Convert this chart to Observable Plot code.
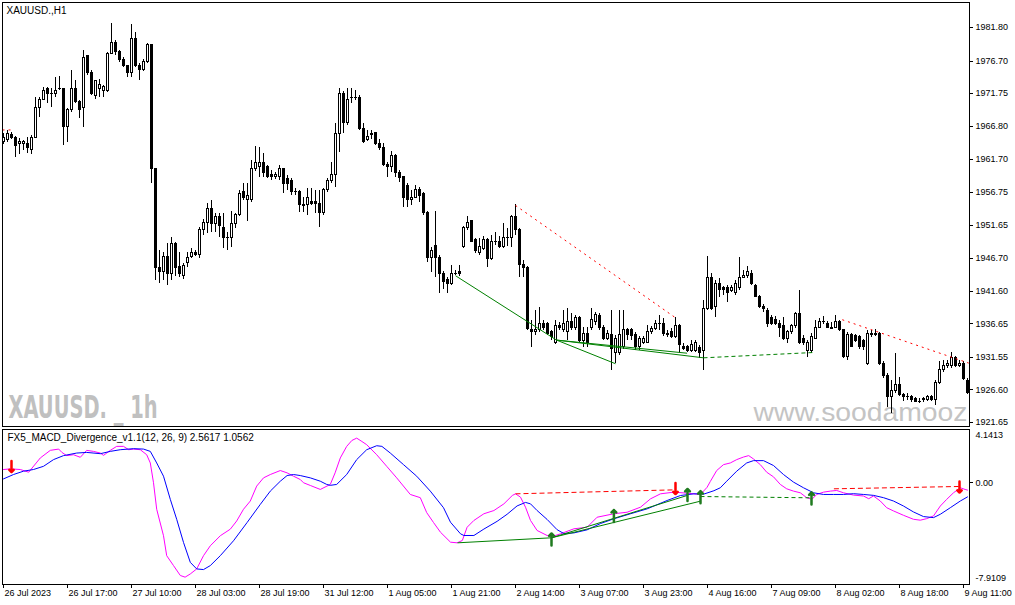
<!DOCTYPE html>
<html><head><meta charset="utf-8">
<script src="https://cdn.jsdelivr.net/npm/d3@7"></script>
<script src="https://cdn.jsdelivr.net/npm/@observablehq/plot@0.6"></script>
<style>
html,body{margin:0;padding:0;background:#fff;}
#chart{width:1015px;height:605px;overflow:hidden;}
#chart svg{display:block;}
</style></head><body><div id="chart"></div>
<script>
// ---- XAUUSD H1 candles (bar index 0..241) ----
const open = [
1964.4,1964.6,1965.5,1965.0,1964.0,1964.1,1964.1,1963.2,1965.0,1969.6,
1970.8,1972.4,1971.7,1971.7,1972.4,1972.5,1966.6,1969.2,1972.5,1970.4,
1969.5,1977.4,1974.9,1971.4,1972.5,1972.2,1972.2,1977.8,1979.4,1978.1,
1976.9,1975.9,1974.8,1980.1,1976.0,1975.4,1976.5,1979.2,1960.2,1945.2,
1944.6,1946.9,1944.3,1948.9,1945.4,1944.0,1945.9,1946.9,1947.5,1947.1,
1951.0,1952.1,1954.2,1951.9,1952.9,1951.3,1949.8,1949.7,1951.9,1953.2,
1956.7,1955.6,1955.5,1960.3,1960.6,1961.2,1960.5,1959.3,1959.0,1959.0,
1960.2,1958.8,1958.5,1956.8,1956.8,1954.8,1954.7,1955.2,1955.2,1955.0,
1953.5,1957.0,1958.5,1959.3,1965.6,1971.6,1967.3,1971.0,1971.0,1971.1,
1966.4,1964.6,1965.6,1965.8,1964.0,1963.5,1960.9,1960.5,1962.3,1959.7,
1959.1,1957.7,1955.6,1955.9,1957.0,1956.5,1953.6,1946.7,1948.6,1946.7,
1944.3,1943.3,1942.8,1944.3,1944.6,1948.3,1951.2,1952.3,1949.4,1947.4,
1948.1,1949.4,1946.5,1949.1,1949.2,1948.4,1949.8,1949.8,1952.9,1950.9,
1945.7,1945.2,1935.7,1935.4,1935.7,1936.7,1936.6,1935.4,1933.7,1936.4,
1935.7,1935.5,1936.9,1936.1,1937.5,1934.0,1935.2,1936.1,1936.9,1937.8,
1936.1,1934.4,1935.0,1932.3,1932.3,1933.1,1935.7,1935.7,1934.9,1933.1,
1933.8,1933.8,1935.4,1935.9,1936.7,1936.6,1935.2,1935.4,1934.6,1936.4,
1933.1,1933.1,1932.5,1932.6,1933.0,1932.5,1939.0,1943.6,1939.2,1942.8,
1942.1,1942.1,1941.7,1941.3,1942.2,1943.7,1944.0,1944.3,1942.5,1940.7,
1939.3,1938.7,1937.5,1937.3,1936.7,1936.3,1934.3,1935.4,1936.3,1938.1,
1934.3,1932.5,1932.5,1934.4,1936.1,1936.9,1936.7,1936.1,1936.1,1936.9,
1935.7,1931.6,1934.9,1934.8,1934.6,1934.0,1930.6,1934.9,1935.1,1935.1,
1930.6,1928.8,1925.5,1926.5,1927.3,1925.9,1925.6,1925.5,1925.2,1924.8,
1925.0,1925.0,1925.6,1925.0,1927.7,1929.6,1930.2,1930.2,1931.4,1930.3,
1930.6,1928.0];
const high = [
1965.6,1966.1,1965.8,1965.2,1964.9,1964.6,1965.0,1965.3,1971.1,1971.1,
1972.7,1972.7,1972.5,1974.2,1974.3,1972.5,1969.5,1975.3,1973.7,1970.7,
1978.3,1977.5,1975.3,1973.7,1973.9,1973.0,1978.0,1982.4,1979.8,1978.3,
1977.2,1976.0,1982.3,1981.0,1976.3,1976.9,1979.4,1979.2,1960.3,1947.8,
1947.5,1948.9,1949.8,1949.1,1947.5,1945.9,1947.5,1948.2,1947.8,1951.3,
1952.6,1955.0,1955.5,1953.5,1953.5,1953.5,1950.6,1953.8,1953.5,1957.0,
1958.0,1958.0,1961.5,1963.7,1963.5,1962.6,1960.8,1960.0,1959.7,1960.8,
1960.3,1959.3,1958.8,1957.3,1957.0,1955.9,1957.3,1957.3,1957.0,1957.0,
1957.3,1958.8,1961.2,1967.2,1972.5,1972.1,1972.5,1972.5,1972.2,1971.4,
1967.2,1966.1,1966.1,1965.8,1964.7,1964.1,1961.2,1962.9,1962.5,1960.0,
1959.1,1958.0,1957.0,1957.7,1957.4,1956.7,1953.8,1948.3,1953.8,1947.1,
1944.6,1943.7,1945.5,1944.8,1945.5,1951.5,1953.0,1952.4,1949.7,1949.7,
1950.0,1949.7,1950.1,1950.6,1950.0,1951.9,1951.2,1953.2,1954.8,1951.2,
1946.3,1945.4,1937.2,1938.7,1939.2,1937.2,1936.9,1935.7,1937.2,1936.9,
1938.7,1939.0,1938.3,1938.0,1937.8,1936.1,1936.1,1939.0,1938.4,1938.3,
1936.4,1935.7,1938.7,1934.9,1938.7,1938.7,1936.0,1936.0,1935.4,1934.8,
1934.8,1936.4,1936.3,1937.2,1937.9,1937.5,1935.7,1936.0,1937.6,1936.6,
1933.7,1933.4,1934.1,1934.1,1933.4,1940.2,1946.9,1944.3,1943.3,1943.6,
1942.4,1942.5,1942.5,1943.3,1946.8,1944.8,1945.4,1944.8,1942.7,1941.0,
1939.6,1939.0,1937.9,1937.8,1937.2,1937.6,1935.7,1936.6,1938.4,1941.7,
1934.9,1934.1,1935.2,1937.2,1937.5,1937.8,1937.0,1936.9,1937.9,1937.2,
1935.8,1935.4,1935.2,1935.1,1934.9,1934.3,1935.7,1935.7,1935.8,1935.4,
1930.9,1929.1,1928.0,1932.2,1928.5,1926.1,1926.1,1925.8,1925.5,1925.3,
1925.5,1925.8,1925.8,1928.0,1930.9,1931.1,1931.1,1932.3,1931.7,1931.1,
1930.9,1928.3];
const low = [
1964.0,1964.3,1964.7,1962.0,1962.5,1963.1,1962.6,1962.5,1964.9,1968.1,
1970.7,1970.2,1969.6,1971.1,1972.2,1963.8,1964.3,1968.9,1970.2,1967.9,
1966.6,1974.5,1971.4,1970.8,1971.1,1971.1,1971.9,1977.7,1977.5,1976.5,
1975.7,1974.2,1974.2,1975.7,1973.7,1975.1,1976.3,1958.0,1943.3,1942.8,
1943.3,1942.5,1943.3,1943.9,1943.7,1943.4,1945.2,1946.6,1946.9,1946.7,
1950.1,1950.4,1950.6,1950.6,1949.8,1948.1,1947.8,1948.3,1951.2,1953.0,
1955.5,1952.3,1955.2,1959.9,1958.9,1958.9,1958.8,1958.5,1958.7,1958.5,
1956.5,1957.0,1956.2,1956.2,1953.6,1953.6,1953.2,1954.7,1953.5,1951.3,
1953.2,1956.7,1958.0,1957.4,1962.8,1965.6,1966.9,1970.2,1970.7,1966.1,
1964.1,1964.4,1964.7,1963.8,1963.0,1960.6,1958.9,1959.7,1958.9,1958.2,
1954.4,1954.4,1954.7,1955.8,1955.2,1953.2,1946.0,1944.5,1943.7,1941.3,
1941.9,1941.3,1942.5,1944.0,1943.9,1948.1,1950.9,1949.1,1947.4,1947.1,
1947.8,1945.2,1946.3,1948.6,1948.1,1948.1,1948.4,1948.3,1950.1,1943.7,
1943.7,1935.7,1933.1,1934.9,1935.4,1935.7,1934.9,1934.1,1933.5,1935.7,
1935.4,1934.1,1935.7,1935.7,1933.8,1933.1,1933.1,1935.7,1936.4,1935.7,
1934.1,1934.1,1929.6,1930.6,1931.8,1932.8,1934.1,1934.1,1932.6,1932.6,
1933.5,1933.7,1935.1,1935.7,1935.7,1934.8,1934.6,1934.4,1934.4,1932.2,
1932.6,1932.3,1932.3,1932.3,1931.4,1929.6,1938.7,1938.7,1937.6,1940.7,
1941.0,1939.9,1941.4,1941.0,1941.7,1943.6,1943.6,1942.5,1940.7,1939.0,
1938.4,1936.1,1936.4,1936.4,1934.6,1934.1,1933.7,1935.1,1935.9,1933.5,
1933.4,1931.6,1932.2,1934.3,1935.9,1936.6,1935.9,1935.9,1935.9,1935.5,
1931.4,1931.1,1933.1,1933.8,1932.8,1932.6,1930.3,1934.6,1934.8,1930.3,
1928.3,1923.9,1923.0,1926.1,1925.6,1924.8,1925.0,1924.7,1924.7,1924.5,
1924.7,1924.8,1924.8,1924.2,1927.4,1929.3,1929.9,1929.9,1930.0,1930.0,
1928.0,1925.9];
const close = [
1965.0,1965.6,1964.9,1963.8,1964.3,1964.3,1963.4,1965.0,1969.6,1970.8,
1972.2,1971.6,1971.6,1972.2,1972.5,1966.6,1969.2,1972.5,1970.4,1969.3,
1977.2,1974.8,1971.7,1973.6,1973.1,1972.7,1977.8,1979.4,1978.0,1976.9,
1975.9,1974.8,1980.1,1975.9,1975.3,1976.5,1979.2,1960.3,1945.2,1944.5,
1946.9,1944.2,1948.9,1945.2,1944.3,1945.5,1946.7,1947.5,1947.1,1951.0,
1952.1,1954.2,1951.9,1952.9,1951.5,1949.7,1949.7,1951.9,1953.2,1956.5,
1955.8,1956.2,1960.3,1961.1,1961.1,1959.6,1959.1,1959.1,1959.4,1960.2,
1958.0,1958.0,1956.7,1956.7,1954.7,1954.6,1955.8,1955.0,1955.0,1953.6,
1957.0,1958.5,1959.3,1965.6,1971.6,1967.3,1970.8,1971.1,1971.1,1966.4,
1964.4,1965.2,1965.5,1964.0,1963.4,1960.9,1960.5,1962.3,1959.6,1958.9,
1955.9,1955.6,1955.9,1957.0,1956.2,1953.5,1946.7,1947.8,1946.7,1944.3,
1943.1,1942.8,1944.3,1944.2,1944.2,1951.2,1952.1,1949.2,1947.7,1948.3,
1949.5,1946.5,1949.1,1949.2,1948.3,1949.8,1949.7,1952.9,1950.9,1945.7,
1945.2,1935.9,1935.5,1935.8,1936.7,1936.1,1935.2,1934.6,1936.4,1936.1,
1936.7,1937.0,1936.1,1937.5,1934.0,1935.2,1933.7,1937.2,1938.0,1936.1,
1934.4,1935.2,1932.9,1934.3,1935.0,1935.7,1934.9,1934.8,1933.1,1934.3,
1934.3,1935.5,1935.9,1936.7,1936.6,1935.1,1934.9,1934.6,1936.4,1933.4,
1932.9,1932.6,1933.5,1933.7,1932.2,1939.0,1943.6,1939.0,1942.8,1941.9,
1941.9,1941.3,1942.1,1942.8,1943.7,1944.0,1944.5,1942.7,1940.8,1939.3,
1938.9,1936.7,1936.7,1936.7,1936.1,1934.3,1935.4,1936.3,1938.1,1933.7,
1933.8,1933.8,1934.6,1936.1,1937.0,1937.0,1936.1,1935.9,1936.9,1935.7,
1931.6,1935.0,1933.2,1934.1,1933.1,1933.1,1935.2,1935.2,1934.9,1930.6,
1928.8,1925.5,1926.5,1927.3,1925.9,1925.5,1925.5,1925.0,1924.8,1924.7,
1925.2,1925.6,1925.0,1927.7,1929.6,1930.2,1930.5,1931.4,1930.3,1930.6,
1928.2,1926.2];

// ---- MACD (magenta) and signal (blue), sampled at bar positions ----
const macdIdx = [0,1.7,4.2,6.3,9.2,11.7,13.8,14.6,15.8,17.5,19.2,20.8,22.5,24.2,25,26.7,28.3,30,31.3,32.5,34.2,35.8,36.7,37.5,38.3,40,40.8,42.5,44.2,45.4,46.7,48.3,50,51.7,54.2,56.7,58.3,60,61.7,63.3,65,66.7,69.2,70.9,72.5,74.2,75,76.7,79.2,81.7,82.9,84.2,85.8,87.1,88.3,89.6,90.8,93.3,95.8,98.3,101.7,104.2,105.8,107.5,109.25,111.75,113.4,114.7,115.9,117.6,120.1,122.6,125.1,127.2,128,129.25,130.5,131.75,133.4,135.9,137.2,139.25,142.6,145.9,148.4,152.6,155.9,159.25,161.75,164.25,167.6,170.9,174.25,175.9,176.7,178.3,180,181.7,183.3,185,186.3,187.5,189.2,190.8,192.5,194.2,195.8,197.5,199.2,200.8,202.1,203.3,205,206.7,208.3,210,212.5,215,216.3,217.5,219.2,220.8,222.5,225,227.5,229.2,230.8,232.5,234.2,235.8,237.5,239.2,240.4,241];
const macdVal = [1.03,1.08,1.03,0.82,1.93,2.52,2.62,2.36,2.11,2.18,1.98,2.52,2.44,2.31,2.13,2.52,2.83,2.83,2.57,2.62,2.57,2.18,1.54,0.00,-2.06,-4.12,-5.67,-6.44,-7.21,-7.34,-7.09,-6.70,-5.67,-4.90,-4.12,-3.61,-2.97,-2.06,-1.42,-0.26,0.38,0.64,0.95,0.77,0.51,0.25,0.00,-0.21,-0.52,-0.13,0.77,1.93,2.83,3.29,3.47,3.21,2.96,2.18,1.28,0.38,-0.91,-1.16,-2.32,-3.09,-3.85,-4.62,-4.67,-4.49,-3.46,-2.93,-2.41,-2.16,-1.64,-0.99,-0.86,-1.12,-1.90,-2.93,-3.71,-4.10,-4.18,-3.97,-3.58,-3.46,-2.68,-2.41,-2.29,-1.90,-1.25,-0.86,-0.73,-0.81,-0.91,-0.35,0.10,0.95,1.41,1.54,1.80,2.00,2.11,1.85,1.41,0.82,0.46,-0.13,-0.47,-0.65,-0.78,-1.16,-1.29,-0.91,-0.73,-0.65,-0.60,-0.78,-0.96,-1.03,-1.24,-1.03,-1.42,-1.94,-2.19,-2.53,-2.84,-2.91,-2.79,-2.58,-1.81,-1.29,-0.78,-0.39,-0.52,-0.57];
const signalIdx = [0,2.5,5,7.5,10,12.5,15,18.3,20.8,24.2,26.7,29.2,32.5,35,36.7,38.3,40,41.7,43.3,45,46.7,48.3,50,51.7,54.2,57.5,60.9,64.2,66.7,69.2,70.9,72.5,74.2,76.7,79.2,80.8,81.7,83.3,85.8,88.3,90.8,93.3,94.6,96.7,100,103.3,106.7,110,111.75,114.25,115.1,117.6,120.1,123.4,125.9,128.4,130.5,131.75,133.4,135.9,138.4,140.1,142.6,145.9,149.25,152.6,156.75,160.9,165.9,169.25,172.6,175.1,177.6,179.2,180.8,183.3,185.8,187.5,190,192.5,195,197.5,200,202.5,205,207.5,210,212.5,215,217.5,220,222.5,225,227.5,230,232.5,234.2,236.7,239.2,241];
const signalVal = [0.30,0.64,0.90,1.03,1.28,1.80,2.11,2.31,2.36,2.26,2.44,2.57,2.65,2.62,2.44,1.54,0.51,-1.29,-2.84,-4.64,-6.19,-6.70,-6.75,-6.44,-5.67,-4.51,-3.09,-1.68,-0.65,0.12,0.56,0.64,0.56,0.38,0.12,-0.13,-0.20,-0.13,0.64,1.80,2.57,2.88,2.83,2.31,1.41,0.51,-0.65,-1.94,-3.07,-3.97,-4.10,-4.10,-3.60,-3.00,-2.45,-1.80,-1.53,-1.64,-2.16,-2.85,-3.65,-3.95,-3.90,-3.66,-3.17,-2.80,-2.41,-2.03,-1.38,-0.99,-0.86,-0.88,-0.62,-0.39,0.12,0.90,1.54,1.72,1.72,1.34,0.64,0.05,-0.39,-0.78,-0.91,-0.91,-0.91,-0.85,-0.91,-0.98,-1.16,-1.42,-1.81,-2.27,-2.63,-2.71,-2.45,-1.94,-1.42,-1.10];

// ---- divergence lines (bar index, value) ----
const priceBullX1 = [113, 138.25, 138.25, 138.25];
const priceBullY1 = [1944.0, 1934.2, 1934.2, 1934.2];
const priceBullX2 = [138.25, 153, 170.9, 175];
const priceBullY2 = [1934.2, 1930.6, 1932.2, 1931.5];
const priceBullDashX = [175, 202.2];
const priceBullDashY = [1931.5, 1932.3];
const priceBearX1 = [-0.25, 128, 209.7];
const priceBearY1 = [1966.2, 1954.7, 1937.3];
const priceBearX2 = [2.2, 168, 241.3];
const priceBearY2 = [1966.2, 1937.6, 1930.7];

const macdBullX1 = [113.5, 137, 137];
const macdBullY1 = [-4.67, -4.28, -4.28];
const macdBullX2 = [137, 170.9, 174.25];
const macdBullY2 = [-4.28, -0.99, -1.43];
const macdBullDashX = [174.25, 202];
const macdBullDashY = [-1.07, -1.17];
const macdBearX1 = [128, 207.6];
const macdBearY1 = [-0.86, -0.47];
const macdBearX2 = [168, 238.8];
const macdBearY2 = [-0.55, -0.29];

const sellArrowIdx = [2, 168, 239];
const sellArrowVal = [1.26, -0.45, -0.33];
const buyArrowIdx = [137, 152.6, 171, 174.25, 202];
const buyArrowVal = [-4.41, -2.59, -0.95, -1.12, -1.22];

// ---- axes ----
const priceTicks = [1981.80, 1976.70, 1971.75, 1966.80, 1961.70, 1956.75, 1951.65, 1946.70, 1941.60, 1936.65, 1931.55, 1926.60, 1921.65];
const macdTicks = [4.1413, 0, -7.9109];
const macdTickLabels = ["4.1413", "0.00", "-7.9109"];
const timeTickIdx = [0,16,32,48,64,80,96,112,128,144,160,176,192,208,224,240];
const timeTickLabels = ["26 Jul 2023","26 Jul 17:00","27 Jul 10:00","28 Jul 03:00","28 Jul 19:00","31 Jul 12:00","1 Aug 05:00","1 Aug 21:00","2 Aug 14:00","3 Aug 07:00","3 Aug 23:00","4 Aug 16:00","7 Aug 09:00","8 Aug 02:00","8 Aug 18:00","9 Aug 11:00"];

const mainTitle = "XAUUSD.,H1";
const subTitle = "FX5_MACD_Divergence_v1.1(12, 26, 9) 2.5617 1.0562";
const watermark1 = "XAUUSD. _ 1h";
const watermark2 = "www.soodamooz";

// ---- build ----
const W = 1015;
const xDomain = [-0.25, 241.5];
const font = "'Liberation Sans', Arial, sans-serif";
const candles = open.map((o, i) => ({i, open: o, high: high[i], low: low[i], close: close[i]}));
const bull = candles.filter(d => d.close >= d.open);
const bear = candles.filter(d => d.close < d.open);
const segs = (x1, y1, x2, y2) => x1.map((v, k) => ({x1: v, y1: y1[k], x2: x2[k], y2: y2[k]}));
const RED = "#ff0000", GREEN = "#008000";
const crisp = {shapeRendering: "crispEdges"};

const main = Plot.plot({
  width: W, height: 427,
  marginLeft: 2, marginRight: 46, marginTop: 2, marginBottom: 1,
  style: {fontFamily: font, fontSize: "9px", background: "white", color: "black", overflow: "visible"},
  x: {domain: xDomain, axis: null},
  y: {domain: [1921.04, 1985.61], axis: null},
  marks: [
    Plot.text([watermark1], {text: d => d, frameAnchor: "bottom-left", dx: 6, dy: -19, textAnchor: "start", lineAnchor: "middle", fontSize: 32, fontWeight: "bold", fontFamily: "'DejaVu Sans Condensed', 'DejaVu Sans', sans-serif", fill: "#c0c0c0"}),
    Plot.text([watermark2], {text: d => d, frameAnchor: "bottom-left", dx: 751, dy: -14, textAnchor: "start", lineAnchor: "middle", fontSize: 25, fontFamily: font, fill: "#c4c4c4"}),
    Plot.ruleX(candles, {x: "i", y1: "low", y2: "high", stroke: "black", strokeWidth: 1, ...crisp}),
    Plot.rect(bull, {x1: d => d.i - 0.25, x2: d => d.i + 0.25, y1: "open", y2: "close", fill: "white", stroke: "black", strokeWidth: 1, ...crisp}),
    Plot.rect(bear, {x1: d => d.i - 0.25, x2: d => d.i + 0.25, y1: "open", y2: "close", fill: "black", stroke: "black", strokeWidth: 1, ...crisp}),
    Plot.link(segs(priceBearX1, priceBearY1, priceBearX2, priceBearY2), {x1: "x1", y1: "y1", x2: "x2", y2: "y2", stroke: RED, strokeWidth: 1, strokeDasharray: "2,4"}),
    Plot.link(segs(priceBullX1, priceBullY1, priceBullX2, priceBullY2), {x1: "x1", y1: "y1", x2: "x2", y2: "y2", stroke: GREEN, strokeWidth: 1}),
    Plot.link([0], {x1: () => priceBullDashX[0], y1: () => priceBullDashY[0], x2: () => priceBullDashX[1], y2: () => priceBullDashY[1], stroke: GREEN, strokeWidth: 1, strokeDasharray: "4,3"}),
    Plot.frame({stroke: "black", ...crisp}),
    Plot.ruleY(priceTicks, {y: d => d, x1: 241.5, x2: 242.5, stroke: "black", ...crisp}),
    Plot.text(priceTicks, {y: d => d, text: d => d.toFixed(2), frameAnchor: "right", dx: 6, textAnchor: "start", fill: "black"}),
    Plot.text([mainTitle], {text: d => d, frameAnchor: "top-left", dx: 4, dy: 8.5, textAnchor: "start", lineAnchor: "middle", fontSize: 10, fill: "black"})
  ]
});

const yPerPx = 12.0522 / 155;
const subMarks = [
  Plot.line(macdIdx, {x: d => d, y: (d, k) => macdVal[k], stroke: "#ff00ff", strokeWidth: 1}),
  Plot.line(signalIdx, {x: d => d, y: (d, k) => signalVal[k], stroke: "#0000ff", strokeWidth: 1}),
  Plot.link(segs(macdBearX1, macdBearY1, macdBearX2, macdBearY2), {x1: "x1", y1: "y1", x2: "x2", y2: "y2", stroke: RED, strokeWidth: 1, strokeDasharray: "5,3"}),
  Plot.link(segs(macdBullX1, macdBullY1, macdBullX2, macdBullY2), {x1: "x1", y1: "y1", x2: "x2", y2: "y2", stroke: GREEN, strokeWidth: 1}),
  Plot.link([0], {x1: () => macdBullDashX[0], y1: () => macdBullDashY[0], x2: () => macdBullDashX[1], y2: () => macdBullDashY[1], stroke: GREEN, strokeWidth: 1, strokeDasharray: "4,3"}),
  Plot.vector(sellArrowIdx, {x: d => d, y: (d, k) => sellArrowVal[k], length: 11, rotate: 180, anchor: "middle", stroke: RED, strokeWidth: 2.5}),
  Plot.vector(buyArrowIdx, {x: d => d, y: (d, k) => buyArrowVal[k], length: 12, rotate: 0, anchor: "middle", stroke: "#1f7a1f", strokeWidth: 2.5}),
  Plot.frame({stroke: "black", ...crisp}),
  Plot.ruleY([0], {y: d => d, x1: 241.5, x2: 242.5, stroke: "black", ...crisp}),
  Plot.ruleX(timeTickIdx, {x: d => d, y1: -7.9109, y2: -7.9109 - 4 * yPerPx, stroke: "black", ...crisp}),
  Plot.text(timeTickIdx, {x: d => d, text: (d, k) => timeTickLabels[k], frameAnchor: "bottom", dy: 9, dx: 1, textAnchor: "start", lineAnchor: "middle", fill: "black"}),
  Plot.text([subTitle], {text: d => d, frameAnchor: "top-left", dx: 5, dy: 8, textAnchor: "start", lineAnchor: "middle", fontSize: 10, fill: "black"})
];
const tickDy = [6, 0, -6];
macdTicks.forEach((t, k) => {
  subMarks.push(Plot.text([t], {y: d => d, text: () => macdTickLabels[k], frameAnchor: "right", dx: 6, dy: tickDy[k], textAnchor: "start", fill: "black"}));
});

const sub = Plot.plot({
  width: W, height: 178,
  marginLeft: 2, marginRight: 46, marginTop: 2, marginBottom: 21,
  style: {fontFamily: font, fontSize: "9px", background: "white", color: "black", overflow: "visible"},
  x: {domain: xDomain, axis: null},
  y: {domain: [-7.9109, 4.1413], axis: null},
  marks: subMarks
});

const root = document.getElementById("chart");
root.appendChild(main);
root.appendChild(sub);

// watermark widths
d3.select(main).selectAll("text").each(function() {
  if (this.textContent === watermark1) { this.setAttribute("textLength", 149); this.setAttribute("lengthAdjust", "spacingAndGlyphs"); }
  if (this.textContent === watermark2) { this.setAttribute("textLength", 214); this.setAttribute("lengthAdjust", "spacingAndGlyphs"); }
});
</script></body></html>
